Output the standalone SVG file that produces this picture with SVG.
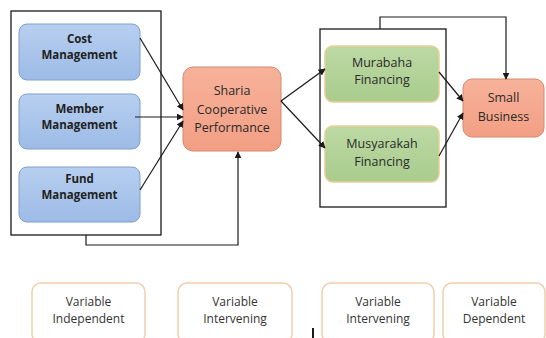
<svg xmlns="http://www.w3.org/2000/svg" width="546" height="338" viewBox="0 0 546 338">
<defs>
<linearGradient id="gBlue" x1="0" y1="0" x2="0" y2="1"><stop offset="0" stop-color="#b7cff0"/><stop offset="1" stop-color="#9dbbe6"/></linearGradient>
<linearGradient id="gRed" x1="0" y1="0" x2="0" y2="1"><stop offset="0" stop-color="#f7b29a"/><stop offset="1" stop-color="#f29f84"/></linearGradient>
<linearGradient id="gGreen" x1="0" y1="0" x2="0" y2="1"><stop offset="0" stop-color="#bcd9a3"/><stop offset="1" stop-color="#a9cc8e"/></linearGradient>
<marker id="arr" viewBox="0 0 10 10" refX="9" refY="5" markerWidth="7" markerHeight="7" orient="auto-start-reverse" markerUnits="userSpaceOnUse"><path d="M0,0 L10,5 L0,10 z" fill="#1a1a1a"/></marker>
<style>
.blue rect{fill:url(#gBlue);stroke:#7f9fcc;stroke-width:1}
.red rect{fill:url(#gRed);stroke:#d28a70;stroke-width:1}
.green rect{fill:url(#gGreen);stroke:#e6cf98;stroke-width:1.5}
.leg rect{fill:#fff;stroke:#efcfae;stroke-width:1.5}
.frame{fill:none;stroke:#1a1a1a;stroke-width:1.3}
text{font-family:"Open Sans","Liberation Sans",sans-serif;text-anchor:middle;fill:#2a2a2a}
.b{font-weight:bold;font-size:11.5px;fill:#222}
.n{font-size:12.5px}
.l{font-size:12px;fill:#333}
.con path,.con line{fill:none;stroke:#1a1a1a;stroke-width:1.2}
</style>
</defs>
<rect width="546" height="338" fill="#fff"/>
<rect class="frame" x="11" y="11" width="150" height="224"/>
<rect class="frame" x="320" y="29" width="126" height="178"/>
<g id="cost" class="blue"><rect x="19" y="24" width="121" height="56" rx="8"/><text class="b" x="79.5" y="43">Cost</text><text class="b" x="79.5" y="59">Management</text></g>
<g id="member" class="blue"><rect x="19" y="94" width="121" height="55" rx="8"/><text class="b" x="79.5" y="113">Member</text><text class="b" x="79.5" y="129">Management</text></g>
<g id="fund" class="blue"><rect x="19" y="167" width="121" height="55" rx="8"/><text class="b" x="79.5" y="183">Fund</text><text class="b" x="79.5" y="199">Management</text></g>
<g id="sharia" class="red"><rect x="183" y="67" width="98" height="84" rx="10"/><text class="n" x="232" y="95">Sharia</text><text class="n" x="232" y="114">Cooperative</text><text class="n" x="232" y="132">Performance</text></g>
<g id="murabaha" class="green"><rect x="325" y="46" width="114" height="56" rx="8"/><text class="n" x="382" y="67">Murabaha</text><text class="n" x="382" y="84">Financing</text></g>
<g id="musyarakah" class="green"><rect x="325" y="126" width="114" height="56" rx="8"/><text class="n" x="382" y="148">Musyarakah</text><text class="n" x="382" y="166">Financing</text></g>
<g id="small" class="red"><rect x="463" y="79" width="81" height="58" rx="9"/><text class="n" x="503.5" y="102">Small</text><text class="n" x="503.5" y="121">Business</text></g>
<g id="legend1" class="leg"><rect x="32" y="283" width="113" height="60" rx="9"/><text class="l" x="88.5" y="306">Variable</text><text class="l" x="88.5" y="323">Independent</text></g>
<g id="legend2" class="leg"><rect x="178" y="283" width="114" height="60" rx="9"/><text class="l" x="235" y="306">Variable</text><text class="l" x="235" y="323">Intervening</text></g>
<g id="legend3" class="leg"><rect x="322" y="283" width="112" height="60" rx="9"/><text class="l" x="378" y="306">Variable</text><text class="l" x="378" y="323">Intervening</text></g>
<g id="legend4" class="leg"><rect x="443" y="283" width="102" height="60" rx="9"/><text class="l" x="494" y="306">Variable</text><text class="l" x="494" y="323">Dependent</text></g>
<g id="connectors" class="con">
<line x1="140" y1="38" x2="183" y2="110" marker-end="url(#arr)"/>
<line x1="135" y1="117" x2="183" y2="117" marker-end="url(#arr)"/>
<line x1="140" y1="190" x2="183" y2="121" marker-end="url(#arr)"/>
<path d="M86,235 V245 H238 V152" marker-end="url(#arr)"/>
<line x1="281" y1="101" x2="325" y2="69" marker-end="url(#arr)"/>
<line x1="281" y1="101" x2="325" y2="148" marker-end="url(#arr)"/>
<line x1="439" y1="72" x2="463" y2="101" marker-end="url(#arr)"/>
<line x1="439" y1="156" x2="463" y2="113" marker-end="url(#arr)"/>
<path d="M380,29 V17 H506 V79" marker-end="url(#arr)"/>
<line x1="313" y1="328" x2="313" y2="338" style="stroke-width:2"/>
</g>
</svg>
